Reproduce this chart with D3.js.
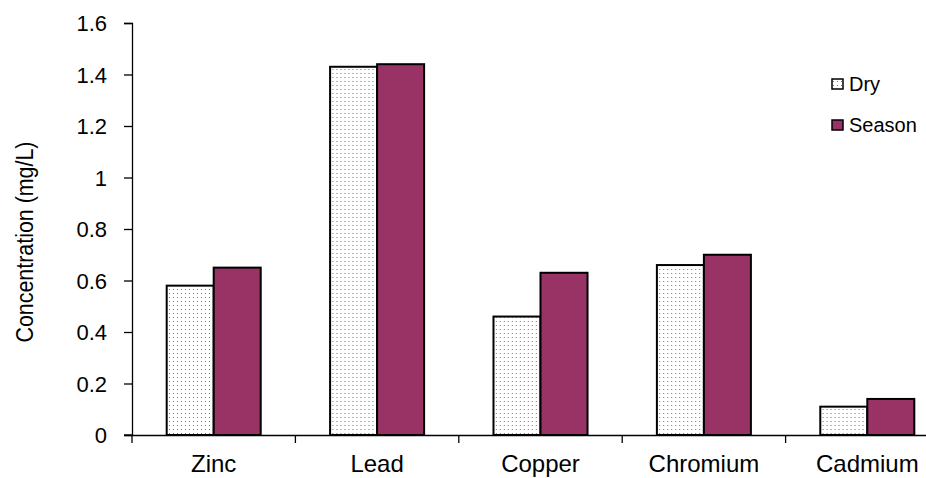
<!DOCTYPE html>
<html><head><meta charset="utf-8">
<script src="https://cdn.jsdelivr.net/npm/d3@7"></script>
<style>body{margin:0;background:#fff;} svg{display:block;}</style>
</head><body>
<svg id="c" width="926" height="478"></svg>
<script>
const categories = ["Zinc","Lead","Copper","Chromium","Cadmium"];
const seriesNames = ["Dry","Season"];
const dryValues = [0.58,1.43,0.46,0.66,0.11];
const seasonValues = [0.65,1.44,0.63,0.70,0.14];
const yTicks = [0,0.2,0.4,0.6,0.8,1,1.2,1.4,1.6];
const yTitle = "Concentration (mg/L)";
const seasonColor = "#993366";
const FONT = "Liberation Sans";

const svg = d3.select("#c");
const defs = svg.append("defs");
const pat = defs.append("pattern").attr("id","dots").attr("patternUnits","userSpaceOnUse")
  .attr("width",4).attr("height",4);
pat.append("rect").attr("width",4).attr("height",4).attr("fill","#fff");
pat.append("rect").attr("x",1).attr("y",1).attr("width",1).attr("height",1).attr("fill","#777");

const x0 = 132, yBase = 435;
const x = d3.scaleBand().domain(categories).range([x0, 949]).paddingInner(0).paddingOuter(0);
const x1 = d3.scaleBand().domain(seriesNames).range([0, x.bandwidth()]).paddingInner(0).paddingOuter(0.738);
const y = d3.scaleLinear().domain([0,1.6]).range([yBase, 23]);

const data = categories.map((c,i)=>({cat:c, vals:[{s:"Dry",v:dryValues[i]},{s:"Season",v:seasonValues[i]}]}));

const g = svg.append("g");
g.selectAll("g.cat").data(data).join("g").attr("class","cat")
 .attr("transform",d=>`translate(${x(d.cat)},0)`)
 .selectAll("rect").data(d=>d.vals).join("rect")
 .attr("x",d=>x1(d.s)).attr("width",x1.bandwidth())
 .attr("y",d=>y(d.v)).attr("height",d=>yBase-y(d.v))
 .attr("fill",d=>d.s==="Dry"?"url(#dots)":seasonColor)
 .attr("stroke","#000").attr("stroke-width",2);

const yAxis = d3.axisLeft(y).tickValues(yTicks).tickSize(8).tickPadding(16)
  .tickFormat(d=>d3.format("")(d));
const ya = svg.append("g").attr("transform",`translate(${x0},0)`).call(yAxis);
ya.select(".domain").attr("stroke","#000").attr("stroke-width",1.3);
ya.selectAll(".tick line").attr("stroke","#000").attr("stroke-width",1.3);
ya.selectAll(".tick text").attr("font-family",FONT).attr("font-size",22)
  .attr("fill","#000").attr("x",-25).attr("dy","0.36em");

const xa = svg.append("g").attr("transform",`translate(0,${yBase})`)
  .call(d3.axisBottom(x).tickSize(0).tickPadding(30));
xa.select(".domain").attr("stroke","#000").attr("stroke-width",1.3);
xa.selectAll(".tick text").attr("font-family",FONT)
  .attr("font-size",24).attr("fill","#000")
  .attr("y",37).attr("dy",0);
svg.append("g").selectAll("line").data(categories).join("line")
  .attr("x1",d=>x(d)).attr("x2",d=>x(d)).attr("y1",yBase).attr("y2",yBase+8)
  .attr("stroke","#000").attr("stroke-width",1.3);
svg.append("line").attr("x1",124).attr("x2",x0).attr("y1",yBase).attr("y2",yBase).attr("stroke","#000").attr("stroke-width",1.3);

svg.append("text").attr("transform","translate(33,242) rotate(-90)")
  .attr("text-anchor","middle").attr("font-family",FONT).attr("font-size",23)
  .attr("textLength",201).attr("lengthAdjust","spacingAndGlyphs").text(yTitle);

const leg = svg.append("g");
seriesNames.forEach((s,i)=>{
  const ly = 79 + i*41;
  leg.append("rect").attr("x",832).attr("y",ly).attr("width",11).attr("height",10)
   .attr("fill",s==="Dry"?"url(#dots)":seasonColor).attr("stroke","#000").attr("stroke-width",1.5);
  leg.append("text").attr("x",849).attr("y",ly+12).attr("font-family",FONT)
   .attr("font-size",20).text(s);
});
</script>
</body></html>
